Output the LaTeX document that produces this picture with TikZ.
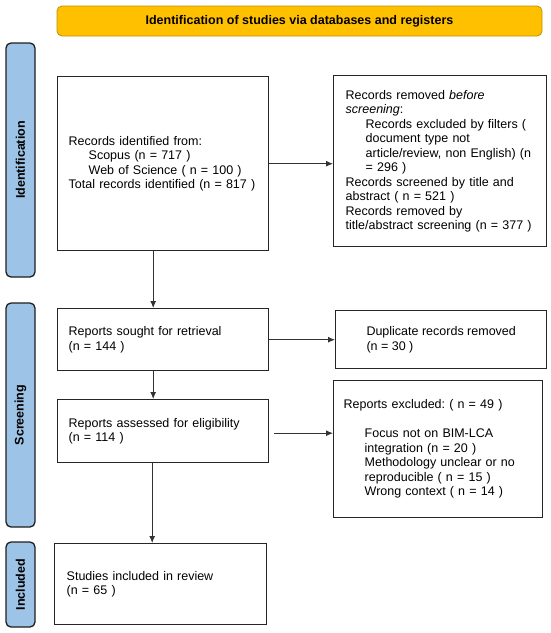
\documentclass[tikz,border=0pt]{standalone}
\usepackage{fontspec}
\setmainfont{Liberation Sans}
\frenchspacing
\usetikzlibrary{arrows.meta}
\definecolor{bannerfill}{HTML}{FFC000}
\definecolor{bannerline}{HTML}{BF9000}
\definecolor{phasefill}{HTML}{9DC3E6}
\definecolor{phaseline}{HTML}{1F1F1F}

\tikzset{
  box/.style={draw=black!85, line width=1.4pt, anchor=north west, align=left,
    inner xsep=11pt, inner ysep=0pt, font=\fontsize{12.5}{14.5}\selectfont},
  phase/.style={draw=phaseline, fill=phasefill, line width=1.3pt,
    rounded corners=5pt, rotate=90, minimum height=29pt, inner sep=0pt,
    font=\fontsize{12.5}{14}\selectfont\bfseries},
  flow/.style={-{Latex[length=7pt,width=6pt]}, line width=0.9pt, draw=black!80}
}

\begin{document}
\begin{tikzpicture}[x=1pt,y=-1pt]
  \useasboundingbox (0,0) rectangle (550,633);

  \node[draw=bannerline, fill=bannerfill, line width=0.8pt, rounded corners=5pt,
    minimum width=485pt, minimum height=30pt, font=\fontsize{12.5}{14}\selectfont\bfseries]
    (title) at (299.5,21) {Identification of studies via databases and registers};

  \foreach \y/\len/\name in {160/234/Identification, 415/224/Screening, 584.5/85/Included}
  \node[phase, minimum width=\len pt] (phase-\name) at (20.5,\y) {\name};

  \node[box, minimum width=211pt, minimum height=174pt, text width=189pt]
    (ident) at (57,76) {Records identified from:\\
    \hspace*{20pt}Scopus (n = 717 )\\
    \hspace*{20pt}Web of Science ( n = 100 )\\
    Total records identified (n = 817 )};
  \node[box, minimum width=213pt, minimum height=171pt, text width=189pt, inner xsep=12pt]
    (removed) at (333,75) {Records removed \textit{before}\\
    \textit{screening}:\\
    \hspace*{20pt}Records excluded by filters (\\
    \hspace*{20pt}document type not\\
    \hspace*{20pt}article/review, non English) (n\\
    \hspace*{20pt}= 296 )\\
    Records screened by title and\\
    abstract ( n = 521 )\\
    Records removed by\\
    title/abstract screening (n = 377 )};

  \node[box, minimum width=211pt, minimum height=62pt, text width=189pt]
    (sought) at (57,308) {Reports sought for retrieval\\(n = 144 )};
  \node[box, minimum width=211pt, minimum height=58pt, inner xsep=0pt]
    (dupl) at (335,310) {Duplicate records removed\\(n = 30 )};

  \node[box, minimum width=211pt, minimum height=63pt, text width=189pt]
    (assessed) at (57,399) {Reports assessed for eligibility\\(n = 114 )};
  \node[box, minimum width=209pt, minimum height=137pt, text width=189pt, inner xsep=10pt]
    (excluded) at (333,380) {Reports excluded: ( n = 49 )\\[14.5pt]
    \hspace*{21pt}Focus not on BIM-LCA\\
    \hspace*{21pt}integration (n = 20 )\\
    \hspace*{21pt}Methodology unclear or no\\
    \hspace*{21pt}reproducible ( n = 15 )\\
    \hspace*{21pt}Wrong context ( n = 14 )};

  \node[box, minimum width=212pt, minimum height=81pt, text width=188pt, inner xsep=12pt]
    (included) at (54,543) {Studies included in review\\(n = 65 )};

  % side arrows
  \draw[flow] (ident.east) -- (ident.east -| removed.west);
  \draw[flow] (sought.east) -- (sought.east -| dupl.west);
  \draw[flow] ([xshift=5pt,yshift=-2pt]assessed.east) -- ([yshift=-2pt]assessed.east -| excluded.west);

  % down arrows
  \draw[flow] ([xshift=-10pt]ident.south) -- ([xshift=-10pt]ident.south |- sought.north);
  \draw[flow] ([xshift=-10pt]sought.south) -- ([xshift=-10pt]sought.south |- assessed.north);
  \draw[flow] ([xshift=-11pt]assessed.south) -- ([xshift=-11pt]assessed.south |- included.north);
\end{tikzpicture}
\end{document}
